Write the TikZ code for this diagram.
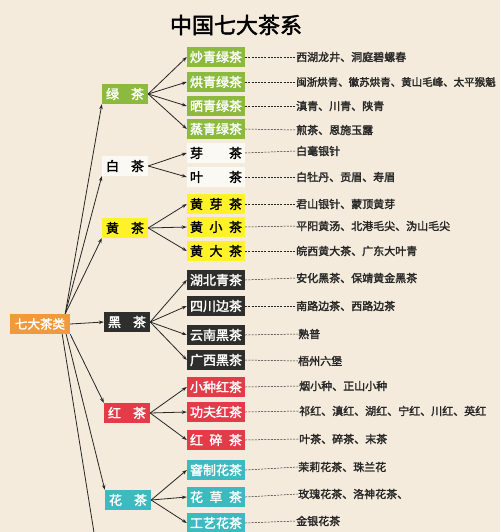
\documentclass[tikz,border=0pt]{standalone}
\usepackage{fontspec}
\newfontfamily\cjk{Noto Sans CJK SC}
\newfontfamily\cjkb[FakeBold=2]{Noto Sans CJK SC}
\usetikzlibrary{arrows.meta}
\definecolor{bg}{HTML}{F4EBDC}
\definecolor{lvgreen}{HTML}{8BBA3E}
\definecolor{lvyellow}{HTML}{FFF22A}
\definecolor{lvblack}{HTML}{2E2E2C}
\definecolor{lvred}{HTML}{E33B47}
\definecolor{lvteal}{HTML}{3CBAC0}
\definecolor{lvorange}{HTML}{F09A3B}
\definecolor{lvwhite}{HTML}{FBF9F4}
\definecolor{ink}{HTML}{262626}
\begin{document}
\begin{tikzpicture}[x=1pt,y=-1pt,>={Stealth[length=5pt,width=3.5pt]},
    lead/.style={font=\cjkb\fontsize{13}{13}\selectfont, text width=38pt, inner xsep=4pt, inner ysep=0pt, minimum height=20pt},
    kind/.style={font=\cjkb\fontsize{13}{13}\selectfont, text width=52pt, inner xsep=3pt, inner ysep=0pt, minimum height=20pt},
    note/.style={font=\cjkb\fontsize{11}{12}\selectfont, text=ink, anchor=west, inner sep=0pt},
    link/.style={draw=ink, line width=0.8pt, ->},
    dots/.style={draw=ink, line width=0.5pt, dash pattern=on 2pt off 1.2pt}]
    \fill[bg] (0,0) rectangle (500,532);
    \useasboundingbox (0,0) rectangle (500,532);

    \node[font=\cjkb\fontsize{22}{22}\selectfont, text=black] (title) at (236,25) {中国七大茶系};

    \node[fill=lvorange, text=white, font=\cjkb\fontsize{12.5}{13}\selectfont, minimum width=60pt, minimum height=20pt, inner sep=0pt] (root) at (40,324) {七大茶类};

    % first level
    \node[lead, fill=lvgreen, text=white] (g) at (125,94) {绿\hfill 茶};
    \node[lead, fill=lvwhite, text=black] (w) at (125,166) {白\hfill 茶};
    \node[lead, fill=lvyellow, text=black] (y) at (125,228) {黄\hfill 茶};
    \node[lead, fill=lvblack, text=white] (k) at (127,322) {黑\hfill 茶};
    \node[lead, fill=lvred, text=white] (r) at (127,413) {红\hfill 茶};
    \node[lead, fill=lvteal, text=white] (f) at (128,500) {花\hfill 茶};
    \coordinate (q) at (96,545);

    \path[link] (root.north east) ++(-5,0) -- (g.south west);
    \path[link] (root.north east) ++(-5,0) -- (w.south west);
    \path[link] (root.north east) ++(-5,0) -- (y.south west);
    \path[link] (root.east) -- (k.west);
    \path[link] (root.south east) ++(0,0) -- (r.north west);
    \path[link] (root.south east) ++(-4,0) -- (f.north west);
    \path[draw=ink, line width=0.8pt] (root.south east) ++(-8,0) -- (q);

    % second level
    \node[kind, fill=lvgreen, text=white] (g1) at (216,57) {炒青绿茶};
    \node[kind, fill=lvgreen, text=white] (g2) at (216,82) {烘青绿茶};
    \node[kind, fill=lvgreen, text=white] (g3) at (216,106) {晒青绿茶};
    \node[kind, fill=lvgreen, text=white] (g4) at (216,129) {蒸青绿茶};
    \node[kind, fill=lvwhite, text=black] (w1) at (216,153) {芽\hfill 茶};
    \node[kind, fill=lvwhite, text=black] (w2) at (216,177) {叶\hfill 茶};
    \node[kind, fill=lvyellow, text=black] (y1) at (216,204) {黄\hfill 芽\hfill 茶};
    \node[kind, fill=lvyellow, text=black] (y2) at (216,227) {黄\hfill 小\hfill 茶};
    \node[kind, fill=lvyellow, text=black] (y3) at (216,251) {黄\hfill 大\hfill 茶};
    \node[kind, fill=lvblack, text=white] (k1) at (216,280) {湖北青茶};
    \node[kind, fill=lvblack, text=white] (k2) at (216,306) {四川边茶};
    \node[kind, fill=lvblack, text=white] (k3) at (216,335) {云南黑茶};
    \node[kind, fill=lvblack, text=white] (k4) at (216,360) {广西黑茶};
    \node[kind, fill=lvred, text=white] (r1) at (216,387) {小种红茶};
    \node[kind, fill=lvred, text=white] (r2) at (216,412) {功夫红茶};
    \node[kind, fill=lvred, text=white] (r3) at (216,440) {红\hfill 碎\hfill 茶};
    \node[kind, fill=lvteal, text=white] (f1) at (216,470) {窨制花茶};
    \node[kind, fill=lvteal, text=white] (f2) at (216,497) {花\hfill 草\hfill 茶};
    \node[kind, fill=lvteal, text=white] (f3) at (216,523) {工艺花茶};

    \path[link] (g.east) -- (g1.west);
    \path[link] (g.east) -- (g2.west);
    \path[link] (g.east) -- (g3.west);
    \path[link] (g.east) -- (g4.west);
    \path[link] (w.east) -- (w1.west);
    \path[link] (w.east) -- (w2.west);
    \path[link] (y.east) -- (y1.west);
    \path[link] (y.east) -- (y2.west);
    \path[link] (y.east) -- (y3.west);
    \path[link] (k.east) -- (k1.west);
    \path[link] (k.east) -- (k2.west);
    \path[link] (k.east) -- (k3.west);
    \path[link] (k.east) -- (k4.west);
    \path[link] (r.east) -- (r1.west);
    \path[link] (r.east) -- (r2.west);
    \path[link] (r.east) -- (r3.west);
    \path[link] (f.east) -- (f1.west);
    \path[link] (f.east) -- (f2.west);
    \path[link] (f.east) -- (f3.west);

    % examples
    \node[note] (n1) at (296,57) {西湖龙井、洞庭碧螺春};
    \node[note, font=\cjkb\fontsize{10.5}{12}\selectfont] (n2) at (296,82) {闽浙烘青、徽苏烘青、黄山毛峰、太平猴魁};
    \node[note] (n3) at (296,106) {滇青、川青、陕青};
    \node[note] (n4) at (296,130) {煎茶、恩施玉露};
    \node[note] (n5) at (296,151) {白毫银针};
    \node[note] (n6) at (296,177) {白牡丹、贡眉、寿眉};
    \node[note] (n7) at (296,204) {君山银针、蒙顶黄芽};
    \node[note] (n8) at (296,226) {平阳黄汤、北港毛尖、沩山毛尖};
    \node[note] (n9) at (296,251) {皖西黄大茶、广东大叶青};
    \node[note] (n10) at (296,278) {安化黑茶、保靖黄金黑茶};
    \node[note] (n11) at (296,306) {南路边茶、西路边茶};
    \node[note] (n12) at (298,334) {熟普};
    \node[note] (n13) at (298,361) {梧州六堡};
    \node[note] (n14) at (299,386) {烟小种、正山小种};
    \node[note] (n15) at (299,411) {祁红、滇红、湖红、宁红、川红、英红};
    \node[note] (n16) at (299,439) {叶茶、碎茶、末茶};
    \node[note] (n17) at (298,467) {茉莉花茶、珠兰花};
    \node[note] (n18) at (298,494) {玫瑰花茶、洛神花茶、};
    \node[note] (n19) at (296,521) {金银花茶};

    \path[dots] (g1.east) -- (n1.west);
    \path[dots] (g2.east) -- (n2.west);
    \path[dots] (g3.east) -- (n3.west);
    \path[dots] (g4.east) -- (n4.west);
    \path[dots] (w1.east) -- (n5.west);
    \path[dots] (w2.east) -- (n6.west);
    \path[dots] (y1.east) -- (n7.west);
    \path[dots] (y2.east) -- (n8.west);
    \path[dots] (y3.east) -- (n9.west);
    \path[dots] (k1.east) -- (n10.west);
    \path[dots] (k2.east) -- (n11.west);
    \path[dots] (k3.east) -- (n12.west);
    \path[dots] (k4.east) -- (n13.west);
    \path[dots] (r1.east) -- (n14.west);
    \path[dots] (r2.east) -- (n15.west);
    \path[dots] (r3.east) -- (n16.west);
    \path[dots] (f1.east) -- (n17.west);
    \path[dots] (f2.east) -- (n18.west);
    \path[dots] (f3.east) -- (n19.west);
\end{tikzpicture}
\end{document}
